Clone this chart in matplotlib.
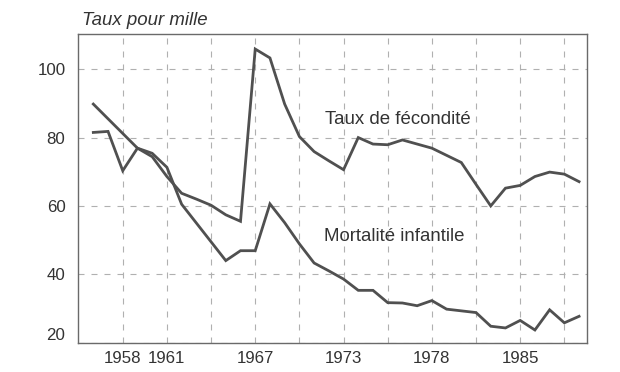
import numpy as np
import matplotlib
matplotlib.use("Agg")
import matplotlib.pyplot as plt

plt.rcParams['font.family'] = ['Liberation Sans', 'DejaVu Sans']

# one value per year (taux pour mille)
fecondite = [89.8, 85.5, 81.2, 76.9, 74.4, 68.6, 63.7, 62.0, 60.2, 57.4,
             55.5, 105.9, 103.3, 89.8, 80.3, 75.9, 73.2, 70.6, 80.0, 78.1,
             77.9, 79.3, 78.1, 76.9, 74.8, 72.7, 66.3, 60.0, 65.2, 66.0,
             68.6, 69.9, 69.3, 67.1]
mortalite = [81.5, 81.8, 70.3, 76.9, 75.4, 71.3, 60.5, 55.0, 49.5, 44.0,
             46.9, 46.9, 60.6, 55.1, 48.9, 43.3, 41.0, 38.6, 35.3, 35.3,
             31.7, 31.6, 30.8, 32.3, 29.8, 29.3, 28.8, 24.8, 24.3, 26.5,
             23.7, 29.6, 25.8, 27.7]

# gridlines every third point, only some of them carry a year label
grid_idx = [2, 5, 8, 11, 14, 17, 20, 23, 26, 29, 32]
grid_labels = ['1958', '1961', '', '1967', '', '1973', '', '1978', '', '1985', '']
y_ticks = [20, 40, 60, 80, 100]

line_col = '#505050'
text_col = '#333333'

x = np.arange(len(fecondite))

fig = plt.figure(figsize=(6.2, 3.72), dpi=100)
ax = fig.add_axes([0.1258, 0.078, 0.821, 0.8306])

ax.plot(x, fecondite, color=line_col, lw=2.0, solid_joinstyle='miter')
ax.plot(x, mortalite, color=line_col, lw=2.0, solid_joinstyle='miter')

ax.set_xlim(-1.04, 33.54)
ax.set_ylim(19.9, 110.3)

ax.set_xticks(grid_idx)
ax.set_xticklabels(grid_labels)
ax.set_yticks(y_ticks)

ax.grid(True, color='#b0b0b0', lw=0.8, linestyle=(0, (5.4, 6.3)))
ax.tick_params(length=0, labelsize=12.2, colors=text_col)
ax.tick_params(axis='x', pad=6)
ax.tick_params(axis='y', pad=9)
for s in ax.spines.values():
    s.set_color('#6a6a6a')
    s.set_linewidth(1.0)

# the "20" sits a bit above the bottom edge
ax.get_yticklabels()[0].set_va('bottom')

ax.text(15.74, 85.2, 'Taux de fécondité', fontsize=13.4, color=text_col,
        va='center', ha='left')
ax.text(15.65, 51.0, 'Mortalité infantile', fontsize=13.4, color=text_col,
        va='center', ha='left')

fig.text(81.7 / 620, 1 - 20.7 / 372, 'Taux pour mille', fontsize=13.4,
         style='italic', color=text_col, va='center', ha='left')

fig.savefig('out.png', dpi=100)
